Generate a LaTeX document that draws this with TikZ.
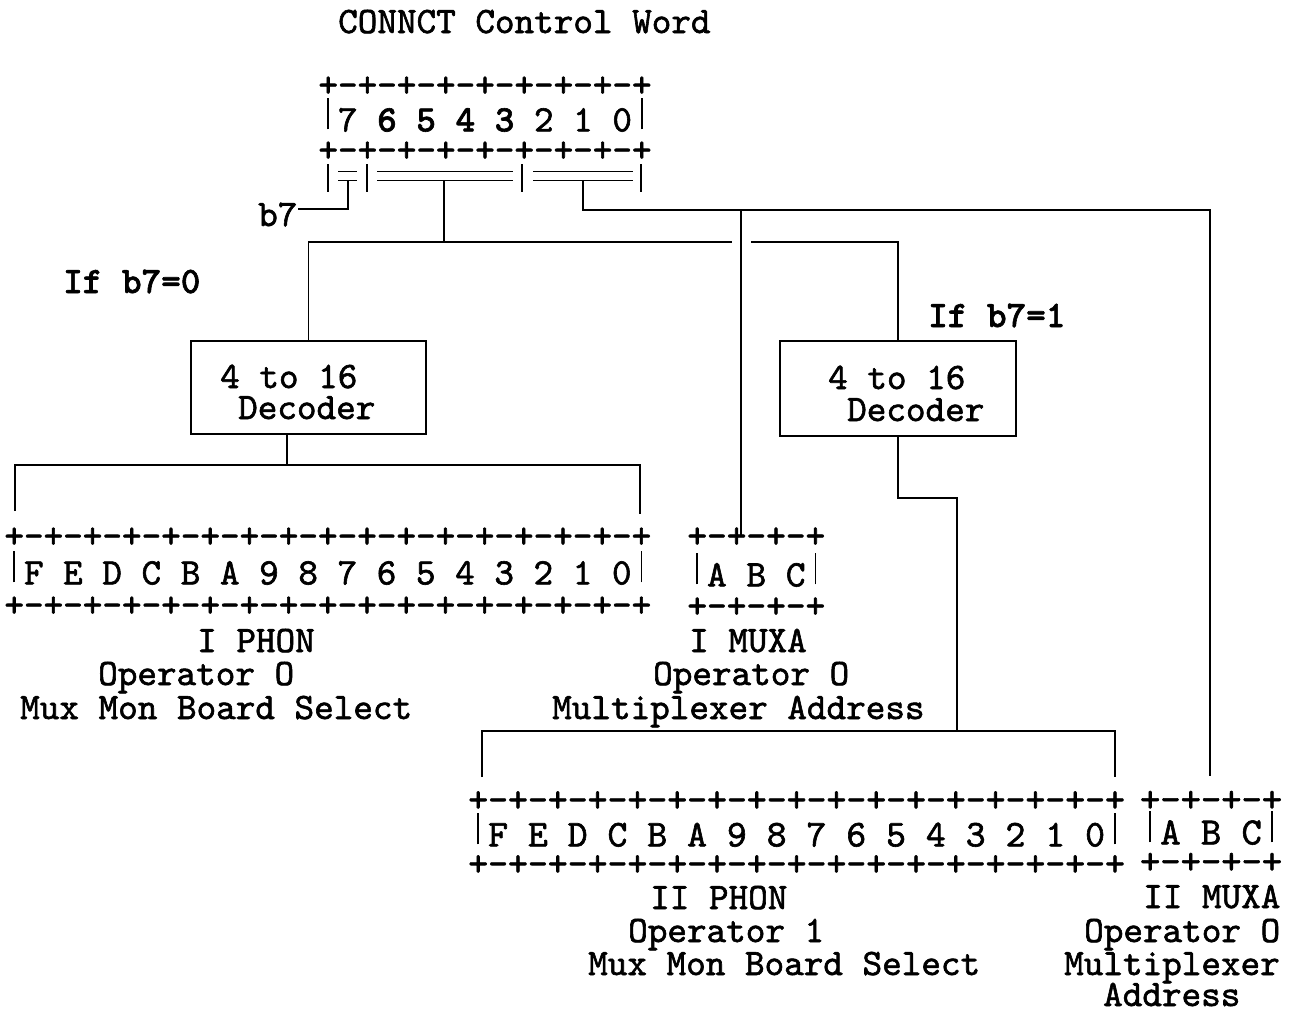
\documentclass[tikz,border=0pt]{standalone}
\usepackage{fontspec}
\setmonofont{lmmono10-regular.otf}[BoldFont=lmmonolt10-bold.otf, FakeBold=1.6]
\makeatletter
\newcommand\monostr[2]{\pgfmathsetmacro\mfs{#1/0.525}\fontsize{\mfs}{\mfs}\selectfont\ttfamily\@tfor\mc:=#2\do{\makebox[#1pt]{\mc}}}
\makeatother
\newcommand\vb{\rule[2pt]{1.5pt}{31pt}}
\newcommand\lmt{\fontsize{37.33}{40}\selectfont\ttfamily}
\tikzset{
  ln/.style={line width=1.8pt},
  dbl/.style={line width=1.5pt},
  txt/.style={anchor=base west, inner sep=0pt, font=\lmt},
  reg/.style={anchor=base west, inner sep=0pt},
  decbox/.style={draw, line width=1.8pt, inner sep=0pt, anchor=north west},
}
\begin{document}
\begin{tikzpicture}[x=1pt,y=-1pt]
\useasboundingbox (0,0) rectangle (1292,1010);
% title
\node[txt] (title) at (338,33) {CONNCT Control Word};
% control word register
\node[reg] (cwA) at (318.2,96.5) {\monostr{19.6}{+-+-+-+-+-+-+-+-+}};
\node[reg] (cwB) at (318.2,131.4) {\monostr{19.6}{\vb7~{\bfseries 6}~{\bfseries 5}~{\bfseries 4}~{\bfseries 3}~2~1~0\vb}};
\node[reg] (cwC) at (318.2,161.5) {\monostr{19.6}{+-+-+-+-+-+-+-+-+}};
% field marks under the register
\draw[dbl] (328,164) -- (328,192) (367,164) -- (367,192) (522,164) -- (522,192) (641,164) -- (641,192);
\draw[dbl] (338,171.7) -- (357,171.7) (338,180.7) -- (357,180.7);
\draw[dbl] (377,171.7) -- (513,171.7) (377,180.7) -- (513,180.7);
\draw[dbl] (533,171.7) -- (633,171.7) (533,180.7) -- (633,180.7);
\coordinate (s7) at (347.7,180.7);
\coordinate (smid) at (444,180.7);
\coordinate (slow) at (583,180.7);
% labels
\node[txt] (b7) at (258,226) {b7};
\node[txt] (if0) at (63,293) {\bfseries If b7=0};
\node[txt] (if1) at (928,327) {\bfseries If b7=1};
% decoders
\node[decbox, minimum width=235pt, minimum height=93pt] (decL) at (190,340) {};
\node[txt] (decL1) at (220,388) {4 to 16};
\node[txt] (decL2) at (238,419) {Decoder};
\node[decbox, minimum width=236pt, minimum height=95pt] (decR) at (779,340) {};
\node[txt] (decR1) at (828,389) {4 to 16};
\node[txt] (decR2) at (847,421) {Decoder};
% I PHON register
\node[reg] (phA1) at (4.2,547.5) {\monostr{19.6}{+-+-+-+-+-+-+-+-+-+-+-+-+-+-+-+-+}};
\node[reg] (phA2) at (4.2,584.4) {\monostr{19.6}{\vb F~E~D~C~B~A~9~8~7~6~5~4~3~2~1~0\vb}};
\node[reg] (phA3) at (4.2,616.5) {\monostr{19.6}{+-+-+-+-+-+-+-+-+-+-+-+-+-+-+-+-+}};
\node[txt] (phAt1) at (197,652) {I PHON};
\node[txt] (phAt2) at (98,685) {Operator O};
\node[txt] (phAt3) at (20,719) {Mux Mon Board Select};
% I MUXA register
\node[reg] (mxA1) at (687.15,547.5) {\monostr{19.7}{+-+-+-+}};
\node[reg] (mxA2) at (687.15,586.4) {\monostr{19.7}{\vb A~B~C\vb}};
\node[reg] (mxA3) at (687.15,617.5) {\monostr{19.7}{+-+-+-+}};
\node[txt] (mxAt1) at (689,652) {I MUXA};
\node[txt] (mxAt2) at (653,685) {Operator O};
\node[txt] (mxAt3) at (552,719) {Multiplexer Address};
% II PHON register
\node[reg] (phB1) at (468.05,811.5) {\monostr{19.9}{+-+-+-+-+-+-+-+-+-+-+-+-+-+-+-+-+}};
\node[reg] (phB2) at (468.05,846.4) {\monostr{19.9}{\vb F~E~D~C~B~A~9~8~7~6~5~4~3~2~1~0\vb}};
\node[reg] (phB3) at (468.05,875.5) {\monostr{19.9}{+-+-+-+-+-+-+-+-+-+-+-+-+-+-+-+-+}};
\node[txt] (phBt1) at (650,909) {II PHON};
\node[txt] (phBt2) at (628,942) {Operator 1};
\node[txt] (phBt3) at (588,975) {Mux Mon Board Select};
% II MUXA register
\node[reg] (mxB1) at (1139.85,811.5) {\monostr{20.3}{+-+-+-+}};
\node[reg] (mxB2) at (1139.85,844.4) {\monostr{20.3}{\vb A~B~C\vb}};
\node[reg] (mxB3) at (1139.85,873.5) {\monostr{20.3}{+-+-+-+}};
\node[txt] (mxBt1) at (1143,908) {II MUXA};
\node[txt] (mxBt2) at (1084,942) {Operator O};
\node[txt] (mxBt3) at (1064,975) {Multiplexer};
\node[txt] (mxBt4) at (1103,1006) {Address};
% connector points
\coordinate (gapL) at (732,242);
\coordinate (gapR) at (751,242);
\coordinate (rc) at (1210,210);
\coordinate (br) at (741,210);
\coordinate (mxAtop) at (741,536);
\coordinate (mxBtop) at (1210,776);
\coordinate (bLl) at (15,465);
\coordinate (bLr) at (640,465);
\coordinate (phAL) at (15,511);
\coordinate (phAR) at (640,514);
\coordinate (zz) at (957,498);
\coordinate (bRj) at (957,731);
\coordinate (bRl) at (482,731);
\coordinate (bRr) at (1115,731);
\coordinate (phBL) at (482,777);
\coordinate (phBR) at (1115,777);
% connectors
\draw[ln] (s7) |- ([yshift=5.6pt]b7.east);
\draw[ln] (smid) -- (smid |- gapL);
\draw[ln] (decL.north) |- (gapL);
\draw[ln] (gapR) -| (decR.north);
\draw[ln] (slow) |- (rc) -- (mxBtop);
\draw[ln] (br) -- (mxAtop);
\draw[ln] ([xshift=-21.5pt]decL.south) -- ([xshift=-21.5pt]decL.south |- bLl);
\draw[ln] (phAL) -- (bLl) -- (bLr) -- (phAR);
\draw[ln] (decR.south) |- (zz) -- (bRj);
\draw[ln] (phBL) -- (bRl) -- (bRr) -- (phBR);
\end{tikzpicture}
\end{document}
